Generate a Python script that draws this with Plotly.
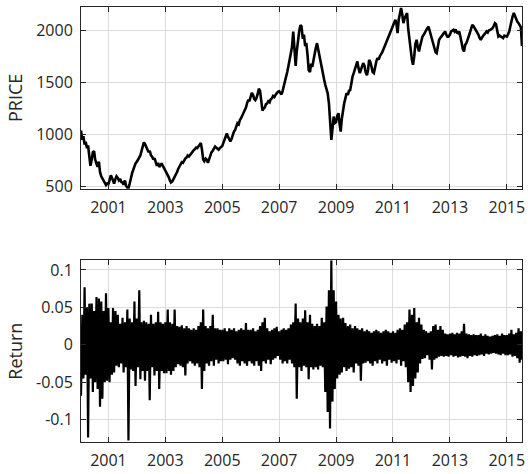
import pandas as pd
import plotly.graph_objects as go

# ---------------- data (semi-monthly) ----------------
PRICE_2000 = [1040, 950, 985, 905, 930, 870, 895, 800, 700, 760, 830, 840, 760, 720, 690, 740, 640, 600, 580, 545, 530, 515, 530]
PRICE_2001 = [525, 560, 610, 585, 550, 530, 575, 600, 585, 560, 575, 545, 540, 520, 560, 510, 490, 484, 530, 590, 630, 660, 700, 724]
PRICE_2002 = [740, 760, 780, 800, 840, 880, 925, 910, 880, 860, 830, 845, 800, 790, 760, 775, 720, 700, 730, 690, 705, 725, 700, 680]
PRICE_2003 = [665, 640, 620, 590, 560, 540, 550, 570, 590, 610, 640, 670, 692, 710, 735, 730, 756, 770, 780, 800, 790, 805, 825, 840]
PRICE_2004 = [850, 860, 875, 870, 890, 910, 920, 860, 760, 745, 770, 760, 730, 760, 800, 830, 845, 870, 885, 875, 860, 855, 870, 880]
PRICE_2005 = [890, 920, 960, 1000, 1010, 980, 950, 935, 960, 1000, 1030, 1045, 1080, 1110, 1100, 1140, 1160, 1180, 1205, 1230, 1260, 1300, 1333, 1320]
PRICE_2006 = [1360, 1400, 1380, 1340, 1330, 1350, 1390, 1440, 1420, 1300, 1230, 1250, 1260, 1290, 1300, 1320, 1310, 1340, 1350, 1370, 1360, 1380, 1400, 1410]
PRICE_2007 = [1415, 1400, 1385, 1420, 1460, 1500, 1540, 1600, 1660, 1720, 1790, 1840, 1990, 1850, 1660, 1800, 1940, 1990, 2050, 2040, 1920, 1960, 1850, 1880]
PRICE_2008 = [1760, 1620, 1600, 1680, 1650, 1720, 1780, 1830, 1878, 1820, 1760, 1718, 1640, 1560, 1526, 1480, 1420, 1397, 1300, 1100, 949, 1050, 1173, 1110]
PRICE_2009 = [1120, 1180, 1205, 1100, 1029, 1150, 1250, 1301, 1350, 1397, 1380, 1420, 1429, 1500, 1560, 1590, 1640, 1680, 1702, 1640, 1590, 1620, 1660, 1686]
PRICE_2010 = [1660, 1600, 1570, 1620, 1718, 1700, 1650, 1600, 1590, 1650, 1700, 1734, 1720, 1750, 1766, 1790, 1820, 1846, 1880, 1900, 1926, 1960, 1990, 2022]
PRICE_2011 = [2050, 2080, 2103, 2060, 1974, 2100, 2160, 2215, 2150, 2070, 2120, 2140, 2167, 2020, 1910, 1780, 1718, 1670, 1750, 1870, 1910, 1840, 1798, 1850]
PRICE_2012 = [1900, 1942, 1960, 1985, 2006, 2020, 2038, 2000, 1960, 1910, 1870, 1820, 1790, 1782, 1850, 1910, 1930, 1950, 1960, 1974, 1990, 1960, 1940, 1942]
PRICE_2013 = [1960, 1990, 2000, 2006, 1990, 2010, 1980, 1974, 1990, 1950, 1880, 1820, 1798, 1860, 1880, 1910, 1940, 1980, 2020, 2054, 2040, 2020, 2000, 1990]
PRICE_2014 = [1960, 1930, 1910, 1930, 1950, 1960, 1974, 1990, 1980, 2000, 2006, 2010, 2020, 2040, 2070, 2060, 2000, 1942, 1950, 1940, 1930, 1926, 1950, 1942]
PRICE_2015 = [1940, 1960, 1990, 2038, 2090, 2130, 2167, 2140, 2120, 2086, 2070, 2050, 2030, 1850]

RETURN_2000 = [-0.068, 0.040, -0.045, 0.077, -0.040, 0.050, -0.124, 0.055, -0.045, 0.055, -0.063, 0.045, -0.050, 0.064, -0.059, 0.062, -0.083, 0.058, -0.072, 0.045, -0.050, 0.069, -0.048]
RETURN_2001 = [0.049, -0.050, 0.030, -0.040, 0.049, -0.037, 0.045, -0.028, 0.040, -0.030, 0.028, -0.025, 0.036, -0.037, 0.030, -0.030, 0.047, -0.128, 0.035, -0.033, 0.030, -0.035, 0.058, -0.055]
RETURN_2002 = [0.035, -0.030, 0.073, -0.046, 0.030, -0.035, 0.032, -0.048, 0.030, -0.035, 0.028, -0.074, 0.040, -0.030, 0.028, -0.041, 0.030, -0.035, 0.044, -0.059, 0.030, -0.035, 0.028, -0.038]
RETURN_2003 = [0.030, -0.038, 0.047, -0.035, 0.030, -0.040, 0.028, -0.035, 0.047, -0.030, 0.025, -0.026, 0.024, -0.028, 0.026, -0.030, 0.022, -0.041, 0.025, -0.025, 0.022, -0.022, 0.020, -0.025]
RETURN_2004 = [0.022, -0.028, 0.020, -0.025, 0.025, -0.030, 0.030, -0.059, 0.047, -0.035, 0.025, -0.025, 0.022, -0.028, 0.025, -0.022, 0.040, -0.028, 0.022, -0.020, 0.022, -0.025, 0.020, -0.022]
RETURN_2005 = [0.020, -0.022, 0.022, -0.020, 0.018, -0.026, 0.022, -0.020, 0.020, -0.018, 0.022, -0.020, 0.018, -0.025, 0.020, -0.028, 0.022, -0.022, 0.020, -0.025, 0.029, -0.028, 0.020, -0.022]
RETURN_2006 = [0.020, -0.025, 0.022, -0.028, 0.018, -0.022, 0.020, -0.028, 0.025, -0.035, 0.030, -0.022, 0.036, -0.025, 0.022, -0.020, 0.018, -0.026, 0.020, -0.020, 0.022, -0.018, 0.024, -0.015]
RETURN_2007 = [0.018, -0.020, 0.020, -0.025, 0.022, -0.022, 0.020, -0.025, 0.022, -0.020, 0.027, -0.025, 0.030, -0.030, 0.055, -0.072, 0.035, -0.030, 0.030, -0.035, 0.035, -0.028, 0.046, -0.030]
RETURN_2008 = [0.030, -0.046, 0.040, -0.030, 0.028, -0.033, 0.025, -0.030, 0.028, -0.033, 0.025, -0.028, 0.036, -0.030, 0.030, -0.063, 0.051, -0.090, 0.073, -0.112, 0.113, -0.076, 0.073, -0.059]
RETURN_2009 = [0.058, -0.045, 0.040, -0.040, 0.035, -0.037, 0.036, -0.030, 0.029, -0.035, 0.025, -0.032, 0.027, -0.030, 0.022, -0.037, 0.025, -0.025, 0.022, -0.028, 0.020, -0.048, 0.022, -0.025]
RETURN_2010 = [0.018, -0.024, 0.020, -0.022, 0.018, -0.025, 0.016, -0.028, 0.018, -0.022, 0.020, -0.025, 0.018, -0.020, 0.016, -0.025, 0.018, -0.022, 0.020, -0.028, 0.018, -0.020, 0.016, -0.024]
RETURN_2011 = [0.018, -0.022, 0.016, -0.025, 0.020, -0.020, 0.022, -0.028, 0.020, -0.022, 0.027, -0.030, 0.030, -0.050, 0.047, -0.063, 0.040, -0.055, 0.049, -0.045, 0.030, -0.037, 0.036, -0.025]
RETURN_2012 = [0.027, -0.019, 0.020, -0.018, 0.018, -0.014, 0.016, -0.020, 0.018, -0.033, 0.025, -0.020, 0.027, -0.018, 0.020, -0.016, 0.025, -0.015, 0.020, -0.016, 0.015, -0.015, 0.014, -0.016]
RETURN_2013 = [0.015, -0.014, 0.016, -0.016, 0.014, -0.015, 0.016, -0.017, 0.015, -0.016, 0.018, -0.015, 0.028, -0.016, 0.015, -0.018, 0.014, -0.015, 0.013, -0.016, 0.014, -0.014, 0.013, -0.015]
RETURN_2014 = [0.013, -0.014, 0.015, -0.013, 0.012, -0.015, 0.014, -0.012, 0.012, -0.013, 0.011, -0.012, 0.012, -0.011, 0.013, -0.012, 0.014, -0.013, 0.012, -0.014, 0.015, -0.012, 0.013, -0.014]
RETURN_2015 = [0.013, -0.014, 0.015, -0.013, 0.020, -0.016, 0.014, -0.015, 0.016, -0.018, 0.022, -0.024, 0.018, -0.020]

TICK_YEARS = [2001, 2003, 2005, 2007, 2009, 2011, 2013, 2015]
PRICE_TICKS = [500, 1000, 1500, 2000]
RETURN_TICKS = [-0.1, -0.05, 0, 0.05, 0.1]
RETURN_TICK_TEXT = ["-0.1", "-0.05", "0", "0.05", "0.1"]

price = (PRICE_2000 + PRICE_2001 + PRICE_2002 + PRICE_2003 + PRICE_2004 + PRICE_2005
         + PRICE_2006 + PRICE_2007 + PRICE_2008 + PRICE_2009 + PRICE_2010 + PRICE_2011
         + PRICE_2012 + PRICE_2013 + PRICE_2014 + PRICE_2015)
ret = (RETURN_2000 + RETURN_2001 + RETURN_2002 + RETURN_2003 + RETURN_2004 + RETURN_2005
       + RETURN_2006 + RETURN_2007 + RETURN_2008 + RETURN_2009 + RETURN_2010 + RETURN_2011
       + RETURN_2012 + RETURN_2013 + RETURN_2014 + RETURN_2015)

p_dates = pd.date_range("2000-01-15", periods=len(price), freq="SMS")
r_dates = pd.date_range("2000-01-15", periods=len(ret), freq="SMS")

TXT = "#262626"
GRID = "#dcdcdc"
FONT = "Open Sans"

fig = go.Figure()
fig.add_trace(go.Scatter(x=p_dates, y=price, mode="lines",
                         line=dict(color="black", width=2.6), xaxis="x", yaxis="y"))
fig.add_trace(go.Scatter(x=r_dates, y=ret, mode="lines",
                         line=dict(color="black", width=2.2), xaxis="x2", yaxis="y2"))

xcommon = dict(
    range=[p_dates[0], p_dates[-1]],
    tickvals=[f"{y}-01-01" for y in TICK_YEARS],
    ticktext=[str(y) for y in TICK_YEARS],
    ticks="inside", ticklen=5, tickwidth=1, tickcolor=TXT,
    showline=True, linecolor=TXT, linewidth=1, mirror="allticks",
    showgrid=True, gridcolor=GRID, gridwidth=1, zeroline=False,
    tickfont=dict(family=FONT, size=16, color=TXT),
    ticklabelstandoff=4,
)
ycommon = dict(
    ticks="inside", ticklen=5, tickwidth=1, tickcolor=TXT,
    showline=True, linecolor=TXT, linewidth=1, mirror="allticks",
    showgrid=True, gridcolor=GRID, gridwidth=1, zeroline=False,
    tickfont=dict(family=FONT, size=16, color=TXT),
    ticklabelstandoff=4,
)

fig.update_layout(
    width=528, height=474,
    margin=dict(l=81, r=3, t=7, b=29),
    paper_bgcolor="white", plot_bgcolor="white",
    showlegend=False,
    font=dict(family=FONT, size=16, color=TXT),
    xaxis=dict(domain=[0, 1], anchor="y", **xcommon),
    xaxis2=dict(domain=[0, 1], anchor="y2", **xcommon),
    yaxis=dict(domain=[0.5822, 1], anchor="x", range=[480, 2225],
               tickvals=PRICE_TICKS, ticktext=[str(v) for v in PRICE_TICKS],
               title=dict(text="PRICE", font=dict(family=FONT, size=18, color=TXT), standoff=8),
               **ycommon),
    yaxis2=dict(domain=[0, 0.4178], anchor="x2", range=[-0.130, 0.113],
                tickvals=RETURN_TICKS, ticktext=RETURN_TICK_TEXT,
                title=dict(text="Return", font=dict(family=FONT, size=18, color=TXT), standoff=8),
                **ycommon),
)

fig.write_html("out.html", config={"displayModeBar": False},
               post_script="document.body.style.margin='0';document.body.style.overflow='hidden';")
